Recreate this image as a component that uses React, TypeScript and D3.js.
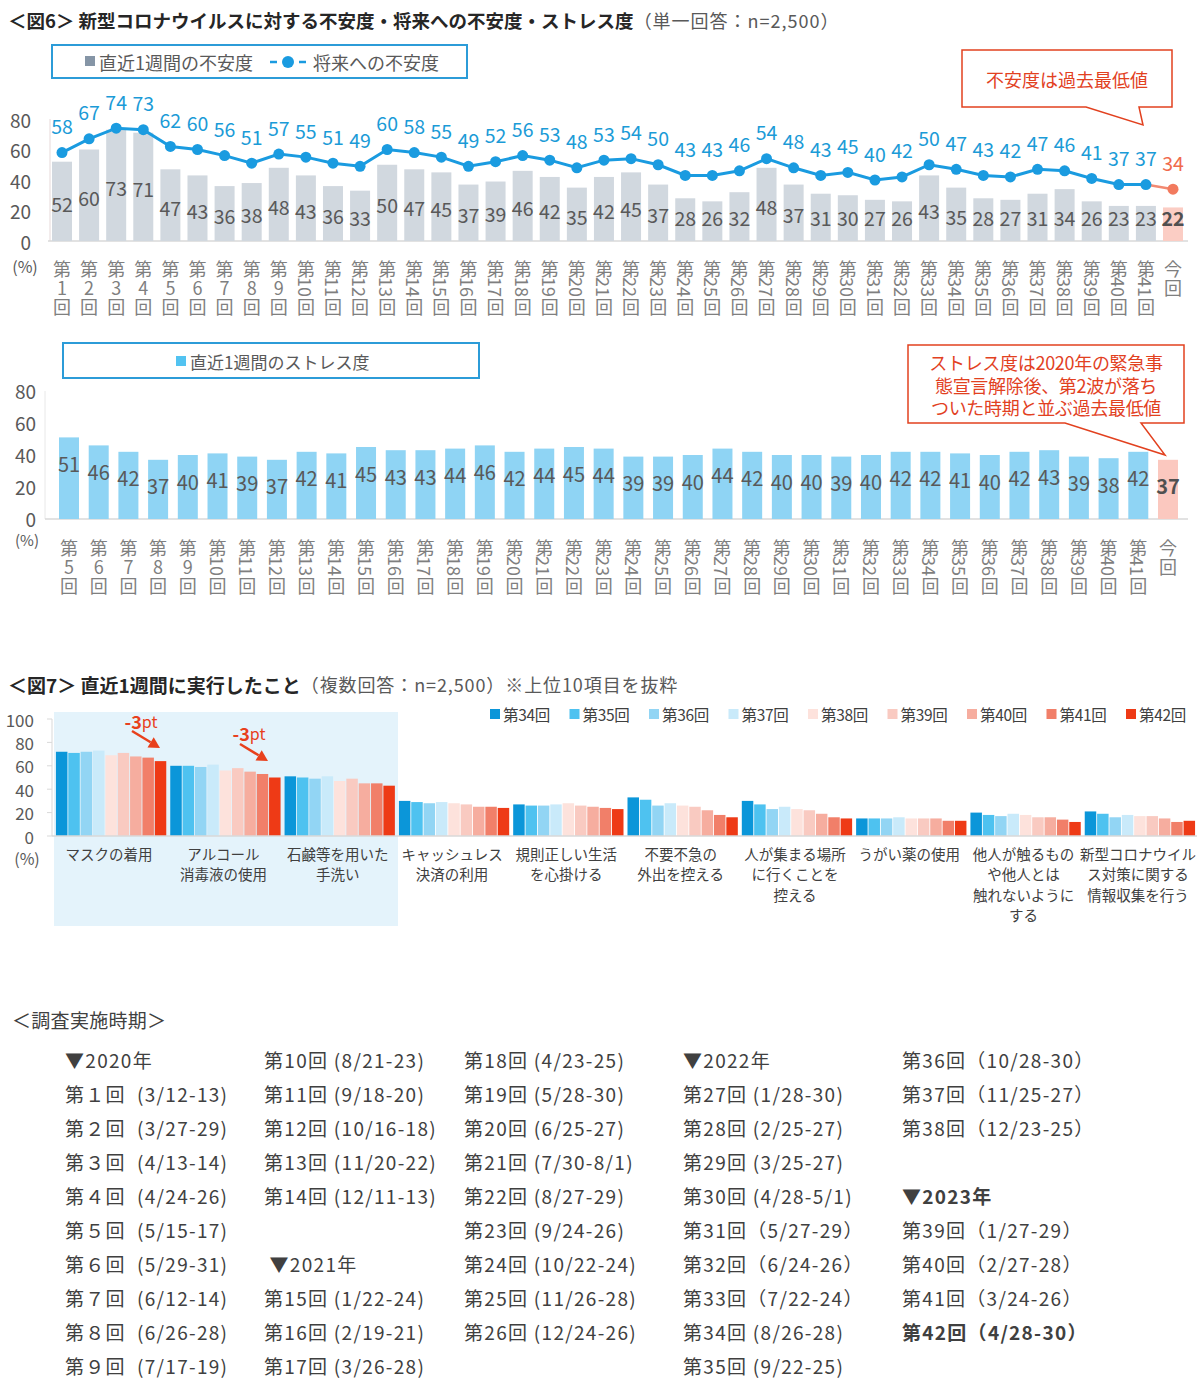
import React from 'react';
import * as d3 from 'd3';

const FONT = '"Noto Sans CJK JP", "Noto Sans", sans-serif';

// ---------- 図6 上段 ----------
const ROUNDS_A = [
  '第1回','第2回','第3回','第4回','第5回','第6回','第7回','第8回','第9回','第10回',
  '第11回','第12回','第13回','第14回','第15回','第16回','第17回','第18回','第19回','第20回',
  '第21回','第22回','第23回','第24回','第25回','第26回','第27回','第28回','第29回','第30回',
  '第31回','第32回','第33回','第34回','第35回','第36回','第37回','第38回','第39回','第40回',
  '第41回','今回'
];
const ANXIETY_WEEK = [
  52,60,73,71,47,43,36,38,48,43,36,33,50,47,45,37,39,46,42,35,
  42,45,37,28,26,32,48,37,31,30,27,26,43,35,28,27,31,34,26,23,23,22
];
const ANXIETY_FUTURE = [
  58,67,74,73,62,60,56,51,57,55,51,49,60,58,55,49,52,56,53,48,
  53,54,50,43,43,46,54,48,43,45,40,42,50,47,43,42,47,46,41,37,37,34
];
const Y_TICKS_6 = [0, 20, 40, 60, 80];

// ---------- 図6 下段 ----------
const ROUNDS_B = [
  '第5回','第6回','第7回','第8回','第9回','第10回','第11回','第12回','第13回','第14回',
  '第15回','第16回','第17回','第18回','第19回','第20回','第21回','第22回','第23回','第24回',
  '第25回','第26回','第27回','第28回','第29回','第30回','第31回','第32回','第33回','第34回',
  '第35回','第36回','第37回','第38回','第39回','第40回','第41回','今回'
];
const STRESS_WEEK = [
  51,46,42,37,40,41,39,37,42,41,45,43,43,44,46,42,44,45,44,39,
  39,40,44,42,40,40,39,40,42,42,41,40,42,43,39,38,42,37
];

// ---------- 図7 ----------
const ACTIONS = [
  ['マスクの着用'],
  ['アルコール', '消毒液の使用'],
  ['石鹸等を用いた', '手洗い'],
  ['キャッシュレス', '決済の利用'],
  ['規則正しい生活', 'を心掛ける'],
  ['不要不急の', '外出を控える'],
  ['人が集まる場所', 'に行くことを', '控える'],
  ['うがい薬の使用'],
  ['他人が触るもの', 'や他人とは', '触れないように', 'する'],
  ['新型コロナウイル', 'ス対策に関する', '情報収集を行う'],
];
const SURVEYS = ['第34回','第35回','第36回','第37回','第38回','第39回','第40回','第41回','第42回'];
const R34 = [72,60,51,30,27,33,30,15,20,21];
const R35 = [71,60,50,29,26,31,27,15,18,19];
const R36 = [72,59,49,28,26,26,23,15,17,16];
const R37 = [73,61,51,29,27,28,25,16,19,18];
const R38 = [69,56,47,28,28,26,23,15,18,17];
const R39 = [71,58,49,27,26,25,22,15,16,17];
const R40 = [68,55,45,25,25,22,19,15,16,15];
const R41 = [67,53,45,25,24,18,16,13,14,12];
const R42 = [64,50,43,24,23,16,15,13,12,13];
const SERIES7 = [R34, R35, R36, R37, R38, R39, R40, R41, R42];
const COLORS7 = ['#0b96d9','#4ec2f0','#92d5f4','#c9eafa','#fde2dc','#f9cac1','#f6ad9f','#f17f69','#ee3a16'];
const Y_TICKS_7 = [0, 20, 40, 60, 80, 100];

// ---------- 調査実施時期 ----------
const SCHED_1 = ['▼2020年','第１回  (3/12-13)','第２回  (3/27-29)','第３回  (4/13-14)','第４回  (4/24-26)','第５回  (5/15-17)','第６回  (5/29-31)','第７回  (6/12-14)','第８回  (6/26-28)','第９回  (7/17-19)'];
const SCHED_2 = ['第10回 (8/21-23)','第11回 (9/18-20)','第12回 (10/16-18)','第13回 (11/20-22)','第14回 (12/11-13)','',' ▼2021年','第15回 (1/22-24)','第16回 (2/19-21)','第17回 (3/26-28)'];
const SCHED_3 = ['第18回 (4/23-25)','第19回 (5/28-30)','第20回 (6/25-27)','第21回 (7/30-8/1)','第22回 (8/27-29)','第23回 (9/24-26)','第24回 (10/22-24)','第25回 (11/26-28)','第26回 (12/24-26)'];
const SCHED_4 = ['▼2022年','第27回 (1/28-30)','第28回 (2/25-27)','第29回 (3/25-27)','第30回 (4/28-5/1)','第31回（5/27-29）','第32回（6/24-26）','第33回（7/22-24）','第34回 (8/26-28)','第35回 (9/22-25)'];
const SCHED_5 = ['第36回（10/28-30）','第37回（11/25-27）','第38回（12/23-25）','','▼2023年','第39回（1/27-29）','第40回（2/27-28）','第41回（3/24-26）','第42回（4/28-30）'];
const SCHED_BOLD = ['▼2023年', '第42回（4/28-30）'];

const GREY = '#595959';
const LABEL_GREY = '#7f7f7f';
const RED = '#e2411f';
const BLUE_LINE = '#1a9be0';

function VLabel({ x, label, yTop }: { x: number; label: string; yTop: number }) {
  const common = { fill: LABEL_GREY, fontSize: 18, textAnchor: 'middle' as const, dominantBaseline: 'central' as const };
  if (!label.startsWith('第')) {
    const chars = label.split('');
    return (
      <text {...common}>
        {chars.map((c, i) => (
          <tspan key={i} x={x} y={yTop + i * 19}>{c}</tspan>
        ))}
      </text>
    );
  }
  const num = label.slice(1, -1);
  if (num.length === 1) {
    return (
      <text {...common}>
        <tspan x={x} y={yTop}>第</tspan>
        <tspan x={x} y={yTop + 19}>{num}</tspan>
        <tspan x={x} y={yTop + 38}>回</tspan>
      </text>
    );
  }
  return (
    <g>
      <text {...common}>
        <tspan x={x} y={yTop}>第</tspan>
        <tspan x={x} y={yTop + 38}>回</tspan>
      </text>
      <text transform={`translate(${x},${yTop + 19}) rotate(90)`} {...common}>{num}</text>
    </g>
  );
}

function Chart6A() {
  const y = d3.scaleLinear().domain([0, 80]).range([241, 119]);
  const x = d3.scalePoint<string>().domain(ROUNDS_A).range([62, 1173]);
  const bw = 20;
  const n = ROUNDS_A.length;
  const pts = ROUNDS_A.map((r, i) => [x(r)!, y(ANXIETY_FUTURE[i])] as [number, number]);
  const line = d3.line();
  const mainPath = line(pts.slice(0, n - 1))!;
  const lastPath = line(pts.slice(n - 2))!;
  return (
    <g>
      {/* legend */}
      <rect x={52} y={45} width={415} height={33} fill="#fff" stroke="#2c9cd8" strokeWidth={2} />
      <rect x={85} y={56} width={10} height={10} fill="#8595a6" />
      <text x={99} y={62} fontSize={18} fill={GREY} dominantBaseline="central">直近1週間の不安度</text>
      <line x1={270} x2={277} y1={62} y2={62} stroke={BLUE_LINE} strokeWidth={2.5} />
      <circle cx={288} cy={62} r={6} fill={BLUE_LINE} />
      <line x1={299} x2={306} y1={62} y2={62} stroke={BLUE_LINE} strokeWidth={2.5} />
      <text x={313} y={62} fontSize={18} fill={GREY} dominantBaseline="central">将来への不安度</text>

      {/* axes */}
      <line x1={50} x2={50} y1={119} y2={241} stroke="#e6d9d9" strokeWidth={1} />
      <line x1={48} x2={1188} y1={241} y2={241} stroke="#d9d9d9" strokeWidth={1.5} />
      {Y_TICKS_6.map(t => (
        <text key={t} x={31} y={y(t)} fontSize={19} fill={GREY} textAnchor="end" dominantBaseline="central">{t}</text>
      ))}
      <text x={25} y={266} fontSize={16} fill={GREY} textAnchor="middle" dominantBaseline="central">(%)</text>

      {/* bars */}
      {ROUNDS_A.map((r, i) => (
        <rect key={r} x={x(r)! - bw / 2} y={y(ANXIETY_WEEK[i])} width={bw} height={y(0) - y(ANXIETY_WEEK[i])}
          fill={i === n - 1 ? '#fbcdc4' : '#d1d8df'} />
      ))}
      {ROUNDS_A.map((r, i) => (
        <text key={r} x={x(r)!} y={Math.min(y(ANXIETY_WEEK[i] / 2) + 2, y(0) - 24)} fontSize={19.5}
          fill={i === n - 1 ? '#505050' : GREY} fontWeight={i === n - 1 ? 700 : 400}
          textAnchor="middle" dominantBaseline="central">{ANXIETY_WEEK[i]}</text>
      ))}

      {/* line */}
      <path d={mainPath} fill="none" stroke={BLUE_LINE} strokeWidth={3} />
      <path d={lastPath} fill="none" stroke="#f28a72" strokeWidth={2.5} />
      {pts.map((p, i) => (
        <circle key={i} cx={p[0]} cy={p[1]} r={5.5} fill={i === n - 1 ? '#f27a5e' : BLUE_LINE} />
      ))}
      {pts.map((p, i) => (
        <text key={i} x={p[0]} y={p[1] - 27} fontSize={19.5} fill={i === n - 1 ? '#f06a4c' : '#1b9bd7'}
          textAnchor="middle" dominantBaseline="central">{ANXIETY_FUTURE[i]}</text>
      ))}

      {ROUNDS_A.map(r => <VLabel key={r} x={x(r)!} label={r} yTop={268} />)}

      {/* callout */}
      <path d="M962,50 H1172 V107 H1139 L1143,125 L1086,107 H962 Z" fill="#fff" stroke={RED} strokeWidth={1.5} />
      <text x={1067} y={79} fontSize={18} fill={RED} textAnchor="middle" dominantBaseline="central">不安度は過去最低値</text>
    </g>
  );
}

function Chart6B() {
  const y = d3.scaleLinear().domain([0, 80]).range([519, 391]);
  const x = d3.scalePoint<string>().domain(ROUNDS_B).range([69, 1168]);
  const bw = 20;
  const n = ROUNDS_B.length;
  return (
    <g>
      <rect x={63} y={343} width={416} height={35} fill="#fff" stroke="#2c9cd8" strokeWidth={2} />
      <rect x={176} y={356} width={10} height={10} fill="#52c3f1" />
      <text x={190} y={361} fontSize={17} fill={GREY} dominantBaseline="central">直近1週間のストレス度</text>

      <line x1={45} x2={45} y1={391} y2={519} stroke="#e8e8e8" strokeWidth={1} />
      <line x1={45} x2={1188} y1={519} y2={519} stroke="#d9d9d9" strokeWidth={1.5} />
      {Y_TICKS_6.map(t => (
        <text key={t} x={36} y={y(t) - 1} fontSize={19} fill={GREY} textAnchor="end" dominantBaseline="central">{t}</text>
      ))}
      <text x={27} y={539} fontSize={15} fill={GREY} textAnchor="middle" dominantBaseline="central">(%)</text>

      {ROUNDS_B.map((r, i) => (
        <rect key={r} x={x(r)! - bw / 2} y={y(STRESS_WEEK[i])} width={bw} height={y(0) - y(STRESS_WEEK[i])}
          fill={i === n - 1 ? '#fbc8bf' : '#8fd4f4'} />
      ))}
      {ROUNDS_B.map((r, i) => (
        <text key={r} x={x(r)!} y={y(STRESS_WEEK[i]) + 26} fontSize={20}
          fill={i === n - 1 ? '#505050' : GREY} fontWeight={i === n - 1 ? 700 : 400}
          textAnchor="middle" dominantBaseline="central">{STRESS_WEEK[i]}</text>
      ))}

      {ROUNDS_B.map(r => <VLabel key={r} x={x(r)!} label={r} yTop={547} />)}

      <path d="M908,345 H1184 V423 H1141 L1165,455 L1065,423 H908 Z" fill="#fff" stroke={RED} strokeWidth={1.5} />
      {['ストレス度は2020年の緊急事', '態宣言解除後、第2波が落ち', 'ついた時期と並ぶ過去最低値'].map((t, i) => (
        <text key={i} x={1046} y={362 + i * 22.5} fontSize={18} fill={RED} textAnchor="middle" dominantBaseline="central"
          letterSpacing={-0.3}>{t}</text>
      ))}
    </g>
  );
}

function Chart7() {
  const keys = ACTIONS.map(a => a.join(''));
  const y = d3.scaleLinear().domain([0, 100]).range([836, 719]);
  const x = d3.scaleBand<string>().domain(keys).range([54, 1197]).paddingInner(0.035).paddingOuter(0.017);
  const xs = d3.scaleBand<string>().domain(SURVEYS).range([0, x.bandwidth()]).paddingInner(0.07);
  const arrow = (x1: number, y1: number, x2: number, y2: number) => {
    const ang = Math.atan2(y2 - y1, x2 - x1);
    const L = 11, W = 6;
    const bx = x2 - L * Math.cos(ang), by = y2 - L * Math.sin(ang);
    const px = -Math.sin(ang) * W, py = Math.cos(ang) * W;
    return (
      <g>
        <line x1={x1} y1={y1} x2={bx} y2={by} stroke="#e8401c" strokeWidth={2.5} />
        <path d={`M${x2},${y2} L${bx + px},${by + py} L${bx - px},${by - py} Z`} fill="#e8401c" />
      </g>
    );
  };
  return (
    <g>
      <rect x={54} y={712} width={344} height={214} fill="#e4f3fb" />
      {/* legend */}
      {SURVEYS.map((s, i) => (
        <g key={s} transform={`translate(${490 + i * 79.5},714)`}>
          <rect x={0} y={-5} width={10} height={10} fill={COLORS7[i]} />
          <text x={13} y={0} fontSize={15.5} fill="#404040" dominantBaseline="central" letterSpacing={-0.3}>{s}</text>
        </g>
      ))}
      {/* axis */}
      <line x1={52} x2={52} y1={719} y2={836} stroke="#d9d9d9" strokeWidth={1} />
      {Y_TICKS_7.map(t => (
        <g key={t}>
          <line x1={47} x2={52} y1={y(t)} y2={y(t)} stroke="#d9d9d9" strokeWidth={1} />
          <text x={34} y={y(t)} fontSize={17} fill={GREY} textAnchor="end" dominantBaseline="central">{t}</text>
        </g>
      ))}
      <text x={27} y={858} fontSize={16} fill={GREY} textAnchor="middle" dominantBaseline="central">(%)</text>
      {/* bars */}
      {keys.map((k, gi) => (
        <g key={k} transform={`translate(${x(k)},0)`}>
          {SERIES7.map((ser, si) => (
            <rect key={si} x={xs(SURVEYS[si])} y={y(ser[gi])} width={xs.bandwidth()} height={y(0) - y(ser[gi])} fill={COLORS7[si]} />
          ))}
        </g>
      ))}
      <line x1={52} x2={1197} y1={836} y2={836} stroke="#d9d9d9" strokeWidth={1.5} />
      {ACTIONS.map((lines, gi) => (
        <g key={gi}>
          {lines.map((l, li) => (
            <text key={li} x={x(keys[gi])! + x.bandwidth() / 2 - 2} y={853 + li * 20.5} fontSize={14.5} fill="#404040"
              textAnchor="middle" dominantBaseline="central">{l}</text>
          ))}
        </g>
      ))}
      {/* annotations */}
      <text x={141} y={721} fill="#e8401c" textAnchor="middle" dominantBaseline="central">
        <tspan fontSize={18} fontWeight={700}>-3</tspan><tspan fontSize={16}>pt</tspan>
      </text>
      {arrow(132, 731, 160, 748)}
      <text x={249} y={733} fill="#e8401c" textAnchor="middle" dominantBaseline="central">
        <tspan fontSize={18} fontWeight={700}>-3</tspan><tspan fontSize={16}>pt</tspan>
      </text>
      {arrow(240, 744, 268, 761)}
    </g>
  );
}

function Schedule() {
  const cols: [string[], number][] = [[SCHED_1, 65], [SCHED_2, 264], [SCHED_3, 464], [SCHED_4, 683], [SCHED_5, 902]];
  return (
    <g>
      <text x={12} y={1019} fontSize={19} fill="#404040" dominantBaseline="central" letterSpacing={0.3}>＜調査実施時期＞</text>
      {cols.map(([items, cx], ci) => (
        <g key={ci}>
          {items.map((t, i) => t ? (
            <text key={i} x={cx} y={1059 + i * 34} fontSize={19} fill="#404040" dominantBaseline="central"
              letterSpacing={1.3}
              fontWeight={SCHED_BOLD.includes(t) ? 700 : 400} style={{ whiteSpace: 'pre' }}>{t}</text>
          ) : null)}
        </g>
      ))}
    </g>
  );
}

export default function App() {
  return (
    <div style={{ position: 'absolute', left: 0, top: 0 }}>
      <svg width={1200} height={1391} style={{ display: 'block', fontFamily: FONT }}>
        <rect x={0} y={0} width={1200} height={1391} fill="#fff" />
        <text x={8} y={20} dominantBaseline="central" fill="#262626">
          <tspan fontSize={18.5} fontWeight={700}>＜図6＞ 新型コロナウイルスに対する不安度・将来への不安度・ストレス度</tspan>
          <tspan fontSize={18} fill={GREY} letterSpacing={1}>（単一回答：n=2,500）</tspan>
        </text>
        <Chart6A />
        <Chart6B />
        <text x={8} y={684} dominantBaseline="central" fill="#262626">
          <tspan fontSize={19} fontWeight={700}>＜図7＞ 直近1週間に実行したこと</tspan>
          <tspan fontSize={18} fill={GREY} letterSpacing={0.9}>（複数回答：n=2,500）※上位10項目を抜粋</tspan>
        </text>
        <Chart7 />
        <Schedule />
      </svg>
    </div>
  );
}
